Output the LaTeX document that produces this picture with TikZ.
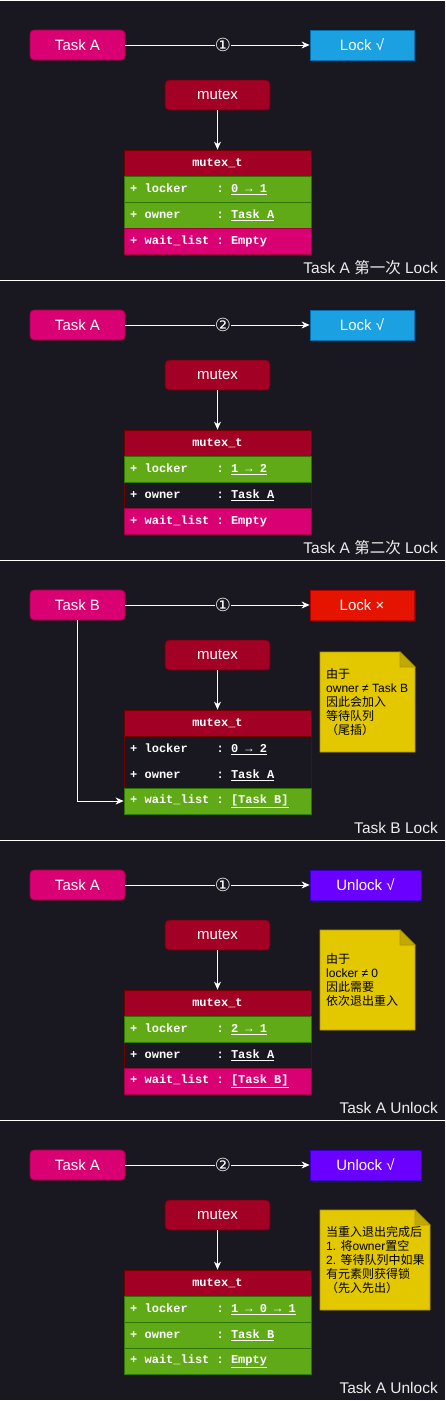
\documentclass[tikz,border=0pt]{standalone}
\usepackage{fontspec}
\setmainfont{Liberation Sans}
\setmonofont{Liberation Mono}
\newfontfamily\cjk{Noto Sans CJK SC}
\newfontfamily\dejavu{DejaVu Sans}
\usetikzlibrary{arrows.meta}
\definecolor{bg}{HTML}{19171F}
\definecolor{taskfill}{HTML}{D80073}
\definecolor{taskline}{HTML}{A50040}
\definecolor{bluefill}{HTML}{1BA1E2}
\definecolor{blueline}{HTML}{006EAF}
\definecolor{redfill}{HTML}{E51400}
\definecolor{redline}{HTML}{B20000}
\definecolor{purpfill}{HTML}{6A00FF}
\definecolor{purpline}{HTML}{3700CC}
\definecolor{mfill}{HTML}{A20025}
\definecolor{mline}{HTML}{6F0000}
\definecolor{gfill}{HTML}{60A917}
\definecolor{gline}{HTML}{2D7600}
\definecolor{notefill}{HTML}{E3C800}
\definecolor{noteline}{HTML}{B09500}
\definecolor{captxt}{HTML}{EEEEEE}
\newcommand\mytable[7]{%
  \node[tblbox] (tb#1) at (217.5,202) {};
  \node[hdrbox] (h#1) at (217.5,163) {};
  \node[hdrtxt] (ht#1) at (h#1) {mutex\_t};
  \node[tblrow,#2] (ra#1) at (217.5,189) {};
  \node[rowtxt] (rta#1) at (130,189.5) {+ locker\ \ \ \ : \underline{#3}};
  \node[tblrow,#4] (rb#1) at (217.5,215) {};
  \node[rowtxt] (rtb#1) at (130,215.5) {+ owner\ \ \ \ \ : \underline{#5}};
  \node[tblrow,#6] (rc#1) at (217.5,241) {};
  \node[rowtxt] (rtc#1) at (130,241.5) {+ wait\_list : #7};
  \node[mutexn] (mx#1) at (217.5,95) {mutex};
  \draw[arr] (mx#1) -- (h#1);
}
\newcommand\mynote[3]{%
  \draw[line width=0.8pt, draw=noteline, fill=notefill] (320,#1) -- (#2-15,#1) -- (#2,#1+15) -- (#2,#1+100) -- (320,#1+100) -- cycle;
  \draw[line width=0.8pt, draw=noteline, fill=notefill!85!black] (#2-15,#1) -- (#2-15,#1+15) -- (#2,#1+15) -- cycle;
  \node[notetxt] (nt#1) at (326,#1+50) {#3};
}
\begin{document}
\begin{tikzpicture}[x=1pt,y=-1pt,
  basebox/.style={minimum height=30pt, inner sep=0pt, text=white, font=\fontsize{15}{18}\selectfont, line width=0.8pt},
  taskbox/.style={basebox, rounded corners=4pt, fill=taskfill, draw=taskline, minimum width=95pt},
  mutexn/.style={basebox, rounded corners=4pt, fill=mfill, draw=mline, minimum width=105pt},
  lockb/.style={basebox, fill=bluefill, draw=blueline, minimum width=104pt},
  lockx/.style={basebox, fill=redfill, draw=redline, minimum width=104pt},
  unlockb/.style={basebox, fill=purpfill, draw=purpline, minimum width=111pt},
  arr/.style={draw=white, line width=0.8pt, -{Stealth[length=8pt,width=7pt,inset=2.5pt]}},
  circlab/.style={fill=bg, inner sep=0pt, text=white, font=\dejavu\fontsize{18}{18}\selectfont},
  tblbox/.style={draw=mline, line width=0.8pt, minimum width=187pt, minimum height=104pt, inner sep=0pt},
  tblrow/.style={minimum width=187pt, minimum height=26pt, inner sep=0pt, line width=0.8pt},
  hdrbox/.style={tblrow, fill=mfill, draw=mline},
  greenrow/.style={fill=gfill, draw=gline},
  magrow/.style={fill=taskfill, draw=taskline},
  darkrow/.style={draw=none},
  hdrtxt/.style={inner sep=0pt, text=white, font=\fontsize{12}{14}\ttfamily\bfseries},
  rowtxt/.style={anchor=west, inner sep=0pt, text=white, font=\fontsize{12}{14}\ttfamily\bfseries},
  notetxt/.style={anchor=west, inner sep=0pt, align=left, text=black, font=\fontsize{12}{14.2}\selectfont},
  captext/.style={anchor=east, inner sep=0pt, text=captxt, font=\fontsize{15.5}{18}\selectfont},
  sepline/.style={draw=white, line width=1pt}]
\fill[bg] (0,0) rectangle (445,1401);
\useasboundingbox (0,0) rectangle (445,1401);
% separators
\draw[sepline] (0,0.5) -- (445,0.5);
\draw[sepline] (0,280) -- (445,280);
\draw[sepline] (0,560) -- (445,560);
\draw[sepline] (0,840) -- (445,840);
\draw[sepline] (0,1120) -- (445,1120);
\draw[sepline] (0,1400.5) -- (445,1400.5);
% panel 1
\begin{scope}
  \node[taskbox] (ta1) at (77.5,45) {Task A};
  \node[lockb] (lk1) at (362,45) {Lock √};
  \draw[arr] (ta1) -- node[circlab, pos=0.53] (cl1) {①} (lk1);
  \mytable{1}{greenrow}{0 → 1}{greenrow}{Task A}{magrow}{Empty}
  \node[captext] (cap1) at (438,268) {Task A {\cjk 第一次} Lock};
\end{scope}
% panel 2
\begin{scope}[yshift=-280pt]
  \node[taskbox] (ta2) at (77.5,45) {Task A};
  \node[lockb] (lk2) at (362,45) {Lock √};
  \draw[arr] (ta2) -- node[circlab, pos=0.53] (cl2) {②} (lk2);
  \mytable{2}{greenrow}{1 → 2}{darkrow}{Task A}{magrow}{Empty}
  \node[captext] (cap2) at (438,268) {Task A {\cjk 第二次} Lock};
\end{scope}
% panel 3
\begin{scope}[yshift=-560pt]
  \node[taskbox] (ta3) at (77.5,45) {Task B};
  \node[lockx] (lk3) at (362,45) {Lock ×};
  \draw[arr] (ta3) -- node[circlab, pos=0.53] (cl3) {①} (lk3);
  \mytable{3}{darkrow}{0 → 2}{darkrow}{Task A}{greenrow}{\underline{[Task B]}}
  \draw[arr] (ta3.south) |- (rc3.west);
  \mynote{92}{415}{{\cjk 由于}\\owner ≠ Task B\\{\cjk 因此会加入}\\{\cjk 等待队列}\\{\cjk （尾插）}}
  \node[captext] (cap3) at (438,268) {Task B Lock};
\end{scope}
% panel 4
\begin{scope}[yshift=-840pt]
  \node[taskbox] (ta4) at (77.5,45) {Task A};
  \node[unlockb] (lk4) at (365.5,45) {Unlock √};
  \draw[arr] (ta4) -- node[circlab, pos=0.53] (cl4) {①} (lk4);
  \mytable{4}{greenrow}{2 → 1}{darkrow}{Task A}{magrow}{\underline{[Task B]}}
  \mynote{90}{415}{{\cjk 由于}\\locker ≠ 0\\{\cjk 因此需要}\\{\cjk 依次退出重入}}
  \node[captext] (cap4) at (438,268) {Task A Unlock};
\end{scope}
% panel 5
\begin{scope}[yshift=-1120pt]
  \node[taskbox] (ta5) at (77.5,45) {Task A};
  \node[unlockb] (lk5) at (365.5,45) {Unlock √};
  \draw[arr] (ta5) -- node[circlab, pos=0.53] (cl5) {②} (lk5);
  \mytable{5}{greenrow}{1 → 0 → 1}{greenrow}{Task B}{greenrow}{\underline{Empty}}
  \mynote{90}{430}{{\cjk 当重入退出完成后}\\1. {\cjk 将}owner{\cjk 置空}\\2. {\cjk 等待队列中如果}\\{\cjk 有元素则获得锁}\\{\cjk （先入先出）}}
  \node[captext] (cap5) at (438,268) {Task A Unlock};
\end{scope}
\end{tikzpicture}
\end{document}
